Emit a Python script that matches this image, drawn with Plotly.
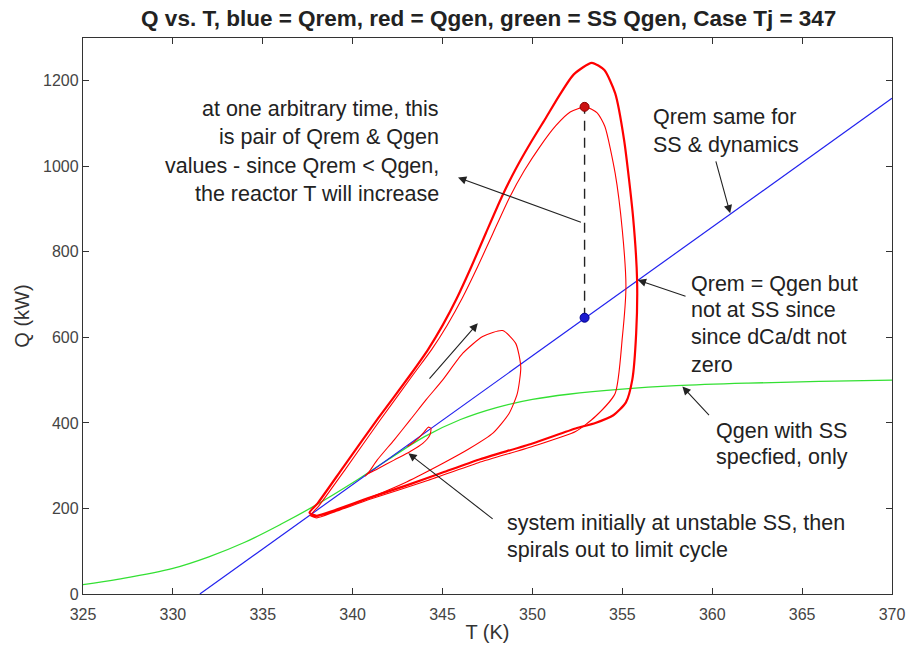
import plotly.graph_objects as go

# ---------------- data ----------------
# Steady-state Qgen (green)
T_ss = [325, 327, 330, 332, 334, 336, 338, 340, 342, 344, 346, 348, 350, 352, 355, 358, 362, 366, 370]
Q_ss = [22, 35, 60, 87, 121, 163, 209, 260, 315, 368, 408, 436, 455, 467, 479, 487, 493, 497, 500]

# Qrem (blue straight line)
T_rem = [331.5, 340, 350, 360, 370]
Q_rem = [0, 256, 557, 858, 1159]

# Dynamic Qgen: transient spiral out of the unstable SS (thin red)
T_tr = [343.05, 343.3, 343.7, 344.0, 344.2, 344.35, 344.3, 343.9, 343.2, 342.3, 341.4, 340.8, 340.7,
        340.9, 341.36, 342.3, 343.2, 344.1, 345.0, 346.13, 347.23, 348.34, 349.07, 349.35, 349.16,
        348.7, 347.8, 346.5, 345.0, 343.0, 341.0, 339.5, 338.4, 337.9, 337.7,
        338.1, 339.6, 341.5, 343.35, 344.4, 345.25, 346.1, 346.95, 347.8, 348.7, 349.55, 350.4,
        351.3, 352.1, 352.96, 353.6, 354.03, 354.6, 355.0, 355.2, 355.0, 354.6, 353.5, 352.4,
        350.0, 347.0, 344.0, 341.0, 339.0, 338.0, 337.6]
Q_tr = [345, 352, 366, 380, 390, 388, 372, 352, 333, 313, 293, 280, 276,
        285, 313, 360, 407, 455, 500, 563, 602, 616, 586, 531, 469,
        422, 376, 340, 305, 262, 226, 202, 186, 181, 186,
        205, 292, 405, 512, 572, 628, 692, 765, 843, 925, 990, 1045,
        1095, 1127, 1139, 1125, 1093, 984, 850, 718, 600, 469, 415, 380,
        345, 307, 263, 222, 192, 178, 184]

# Dynamic Qgen: limit cycle (thick red)
T_lc = [337.6, 338.05, 339.5, 341.4, 343.2, 344.2, 345.0, 345.8, 346.6, 347.4, 348.3, 349.1, 349.9,
        350.7, 351.5, 352.3, 353.3, 354.0, 354.6, 355.1, 355.6, 355.82, 355.77, 355.55, 355.2, 354.5,
        353.5, 352.4, 350.0, 347.0, 345.0, 343.0, 341.0, 339.0, 338.0, 337.6]
Q_lc = [190, 212, 298, 410, 512, 572, 628, 692, 765, 843, 929, 996, 1055,
        1110, 1166, 1215, 1242, 1225, 1171, 1061, 880, 734, 610, 500, 448, 418,
        400, 387, 352, 314, 284, 254, 226, 196, 183, 190]

# Pair of Qrem & Qgen at one arbitrary time
T_pair = 352.9
Q_gen_pair = 1139
Q_rem_pair = 646

x_ticks = [325, 330, 335, 340, 345, 350, 355, 360, 365, 370]
y_ticks = [0, 200, 400, 600, 800, 1000, 1200]

title_text = "Q vs. T, blue = Qrem, red = Qgen, green = SS Qgen, Case Tj = 347"

# text blocks: (lines, anchor T, list of Q for each line, xanchor)
blocks = [
    (["at one arbitrary time, this", "is pair of Qrem &amp; Qgen",
      "values - since Qrem &lt; Qgen,", "the reactor T will increase"],
     344.9, [1134, 1068, 1001, 935], "right"),
    (["Qrem same for", "SS &amp; dynamics"], 356.6, [1116, 1050], "left"),
    (["Qrem = Qgen but", "not at SS since", "since dCa/dt not", "zero"],
     358.7, [726, 664, 602, 535], "left"),
    (["Qgen with SS", "specfied, only"], 360.1, [381, 321], "left"),
    (["system initially at unstable SS, then", "spirals out to limit cycle"],
     348.5, [165, 103], "left"),
]

# arrows: (head T, head Q, tail T, tail Q)
arrows = [
    (345.86, 974, 352.78, 868),
    (346.96, 633, 344.2, 500),
    (343.1, 329, 347.87, 173),
    (361.0, 890, 360.18, 1015),
    (355.86, 734, 358.6, 695),
    (358.34, 485, 359.9, 415),
]

FONT = "Liberation Sans, Arial, Helvetica, sans-serif"

fig = go.Figure()

fig.add_trace(go.Scatter(x=T_ss, y=Q_ss, mode="lines",
                         line=dict(color="#33e033", width=1.3, shape="spline"),
                         hoverinfo="skip", showlegend=False))
fig.add_trace(go.Scatter(x=T_rem, y=Q_rem, mode="lines",
                         line=dict(color="#2222ee", width=1.2),
                         hoverinfo="skip", showlegend=False))
fig.add_trace(go.Scatter(x=T_tr, y=Q_tr, mode="lines",
                         line=dict(color="#ff0000", width=1.1, shape="spline", smoothing=0.6),
                         hoverinfo="skip", showlegend=False))
fig.add_trace(go.Scatter(x=T_lc, y=Q_lc, mode="lines",
                         line=dict(color="#ff0000", width=2.2, shape="spline", smoothing=0.6),
                         hoverinfo="skip", showlegend=False))
fig.add_trace(go.Scatter(x=[T_pair, T_pair], y=[Q_rem_pair, Q_gen_pair], mode="lines",
                         line=dict(color="#222222", width=1.4, dash="10px,7px"),
                         hoverinfo="skip", showlegend=False))
fig.add_trace(go.Scatter(x=[T_pair], y=[Q_gen_pair], mode="markers",
                         marker=dict(color="#cc1111", size=9, line=dict(color="#880000", width=1)),
                         hoverinfo="skip", showlegend=False))
fig.add_trace(go.Scatter(x=[T_pair], y=[Q_rem_pair], mode="markers",
                         marker=dict(color="#1a1ad0", size=9, line=dict(color="#000088", width=1)),
                         hoverinfo="skip", showlegend=False))

annotations = []
for lines, tx, qs, xa in blocks:
    for line, q in zip(lines, qs):
        annotations.append(dict(x=tx, y=q, xref="x", yref="y", text=line, showarrow=False,
                                xanchor=xa, yanchor="middle",
                                font=dict(family=FONT, size=21.5, color="#222222")))
for hx, hy, tx, ty in arrows:
    annotations.append(dict(x=hx, y=hy, ax=tx, ay=ty, xref="x", yref="y", axref="x", ayref="y",
                            text="", showarrow=True, arrowhead=2, arrowsize=1.5, arrowwidth=1.1,
                            arrowcolor="#222222", standoff=0, startstandoff=0))

axis_common = dict(showgrid=False, zeroline=False, showline=True, linecolor="#333333", linewidth=1.3,
                   mirror="ticks", ticks="inside", ticklen=6, tickwidth=1, tickcolor="#333333",
                   tickfont=dict(family=FONT, size=16, color="#444444"))

fig.update_layout(
    width=917, height=654,
    margin=dict(l=83, r=17, t=38, b=60),
    paper_bgcolor="white", plot_bgcolor="white",
    title=dict(text="<b>" + title_text + "</b>", x=0.533, xanchor="center", y=0.972, yanchor="middle",
               font=dict(family=FONT, size=22.5, color="#222222")),
    xaxis=dict(range=[325, 370], tickvals=x_ticks, ticktext=[str(v) for v in x_ticks],
               ticklabelstandoff=6,
               title=dict(text="T (K)", font=dict(family=FONT, size=20, color="#333333"), standoff=2),
               **axis_common),
    yaxis=dict(range=[0, 1300], tickvals=y_ticks, ticktext=[str(v) for v in y_ticks],
               title=dict(text="Q (kW)", font=dict(family=FONT, size=20, color="#333333"), standoff=8),
               **axis_common),
    annotations=annotations,
    showlegend=False,
)

fig.write_html("out.html")
